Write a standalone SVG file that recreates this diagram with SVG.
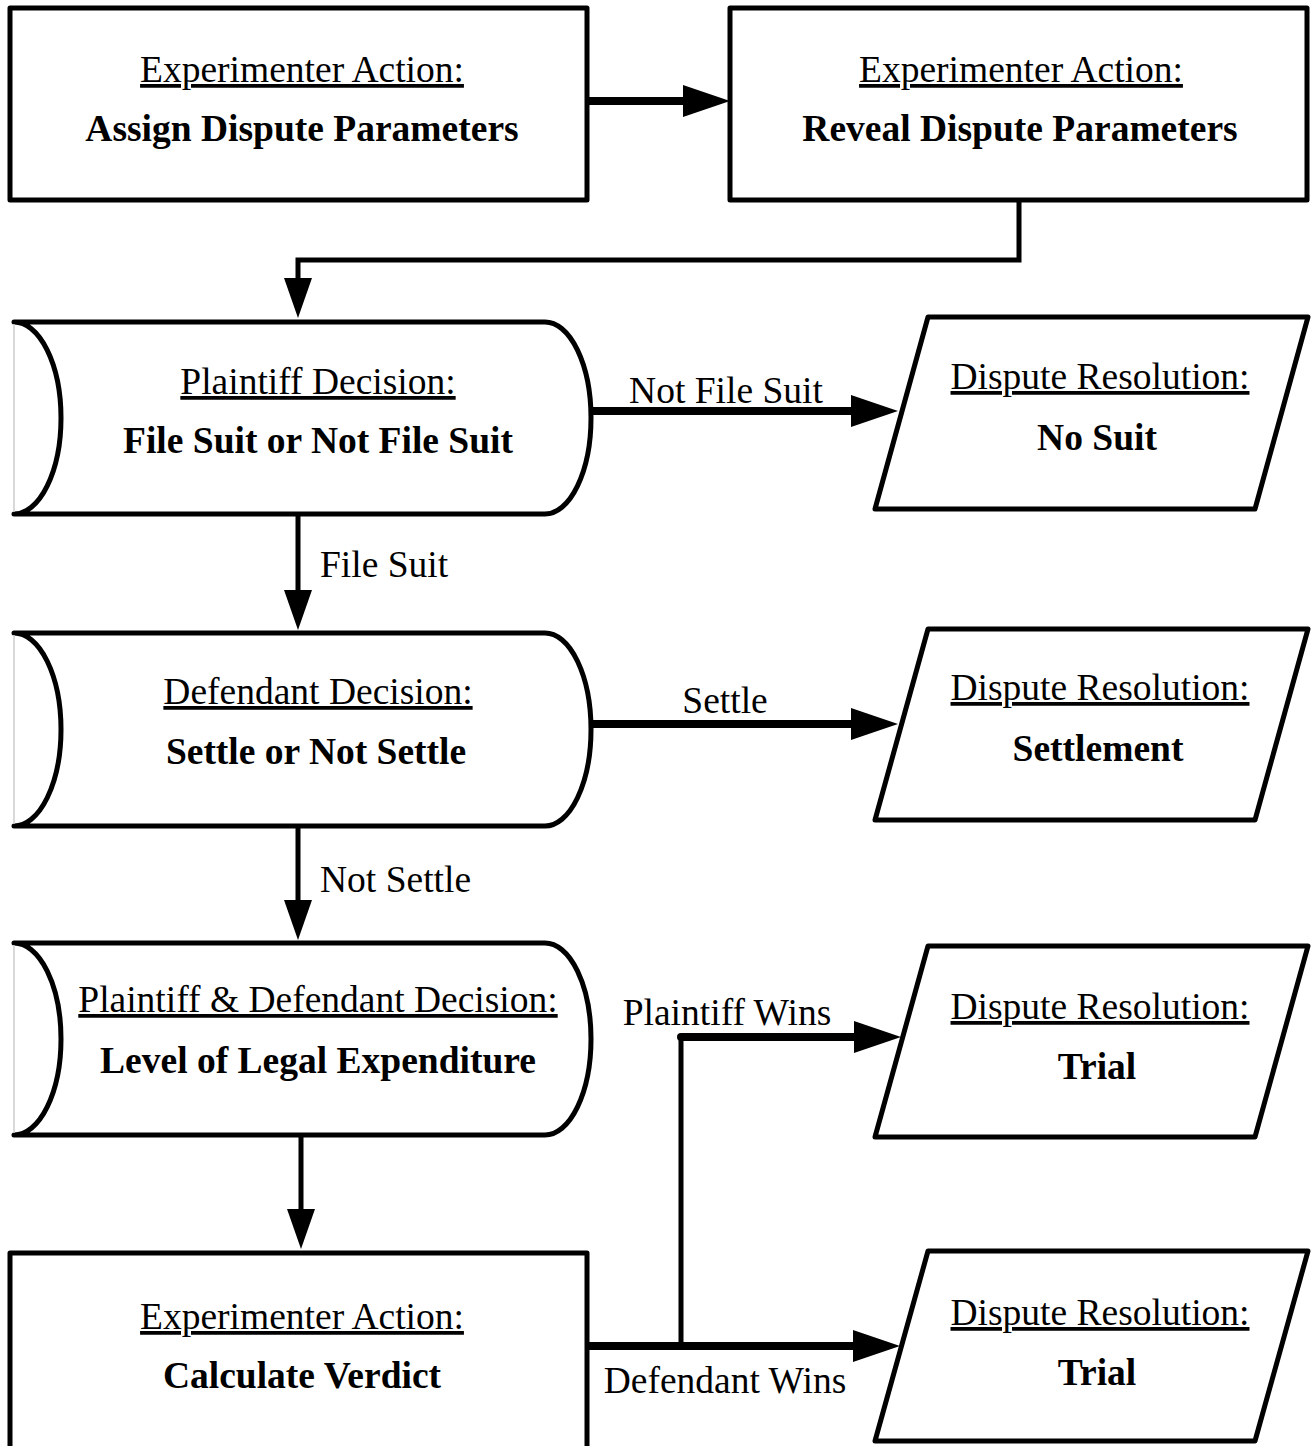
<svg xmlns="http://www.w3.org/2000/svg" width="1313" height="1446" viewBox="0 0 1313 1446">
<defs>
<style>
.shape{fill:#fff;stroke:#000;stroke-width:5;stroke-linejoin:round}
.edge{fill:#fff;stroke:#ccc;stroke-width:1.5}
.t{font-family:"Liberation Serif","Times New Roman",serif;font-size:37.5px;fill:#000}
.h{text-anchor:middle;text-decoration:underline}
.b{text-anchor:middle;font-weight:bold}
.lm{text-anchor:middle}
.thick{fill:none;stroke:#000;stroke-width:8;stroke-linecap:round}
.thin{fill:none;stroke:#000;stroke-width:5;stroke-linecap:round;stroke-linejoin:miter}
</style>
<marker id="hb" markerUnits="userSpaceOnUse" viewBox="0 -16 47 32" markerWidth="47" markerHeight="32" refX="27" refY="0" orient="auto">
<path d="M0,-16 L47,0 L0,16 Z" fill="#000"/>
</marker>
<marker id="hs" markerUnits="userSpaceOnUse" viewBox="0 -14 40 28" markerWidth="40" markerHeight="28" refX="22" refY="0" orient="auto">
<path d="M0,-14 L40,0 L0,14 Z" fill="#000"/>
</marker>
</defs>
<rect width="1313" height="1446" fill="#fff"/>

<g id="connectors">
<path class="thick" d="M583,101 L710,101" marker-end="url(#hb)"/>
<path class="thin" d="M1019,200 L1019,260 L298,260 L298,300" marker-end="url(#hs)"/>
<path class="thick" d="M590,411 L878,411" marker-end="url(#hb)"/>
<path class="thin" d="M298,514 L298,612" marker-end="url(#hs)"/>
<path class="thick" d="M590,724 L878,724" marker-end="url(#hb)"/>
<path class="thin" d="M298,826 L298,922" marker-end="url(#hs)"/>
<path class="thin" d="M301,1130 L301,1231" marker-end="url(#hs)"/>
<path class="thick" d="M587,1346 L880,1346" marker-end="url(#hb)"/>
<path class="thin" d="M681,1346 L681,1037"/>
<path class="thick" d="M681,1037 L881,1037" marker-end="url(#hb)"/>
<text class="t lm" x="726" y="403">Not File Suit</text>
<text class="t" x="320" y="577">File Suit</text>
<text class="t lm" x="725" y="713">Settle</text>
<text class="t" x="320" y="892">Not Settle</text>
<text class="t lm" x="727" y="1025">Plaintiff Wins</text>
<text class="t lm" x="725" y="1393">Defendant Wins</text>
</g>

<g id="assign">
<rect class="shape" x="10" y="8" width="577" height="192"/>
<text class="t h" x="302" y="82">Experimenter Action:</text>
<text class="t b" x="302" y="141">Assign Dispute Parameters</text>
</g>

<g id="reveal">
<rect class="shape" x="730" y="8" width="577" height="192"/>
<text class="t h" x="1021" y="82">Experimenter Action:</text>
<text class="t b" x="1020" y="141">Reveal Dispute Parameters</text>
</g>

<g id="plaintiff-decision">
<path class="shape" d="M14,322 L545,322 A46,96 0 0 1 545,514 L14,514 A47,96 0 0 0 14,322 Z"/>
<line class="edge" x1="14" y1="324" x2="14" y2="512"/>
<text class="t h" x="318" y="394">Plaintiff Decision:</text>
<text class="t b" x="318" y="453">File Suit or Not File Suit</text>
</g>

<g id="no-suit">
<polygon class="shape" points="928,317 1308,317 1255,509 875,509"/>
<text class="t h" x="1100" y="389">Dispute Resolution:</text>
<text class="t b" x="1097" y="450">No Suit</text>
</g>

<g id="defendant-decision">
<path class="shape" d="M14,633 L545,633 A46,96.5 0 0 1 545,826 L14,826 A47,96.5 0 0 0 14,633 Z"/>
<line class="edge" x1="14" y1="635" x2="14" y2="824"/>
<text class="t h" x="318" y="704">Defendant Decision:</text>
<text class="t b" x="316" y="764">Settle or Not Settle</text>
</g>

<g id="settlement">
<polygon class="shape" points="928,629 1308,629 1255,820 875,820"/>
<text class="t h" x="1100" y="700">Dispute Resolution:</text>
<text class="t b" x="1098" y="761">Settlement</text>
</g>

<g id="expenditure-decision">
<path class="shape" d="M14,943 L545,943 A46,96 0 0 1 545,1135 L14,1135 A47,96 0 0 0 14,943 Z"/>
<line class="edge" x1="14" y1="945" x2="14" y2="1133"/>
<text class="t h" x="318" y="1012">Plaintiff &amp; Defendant Decision:</text>
<text class="t b" x="318" y="1073">Level of Legal Expenditure</text>
</g>

<g id="trial-plaintiff">
<polygon class="shape" points="928,946 1308,946 1255,1137 875,1137"/>
<text class="t h" x="1100" y="1019">Dispute Resolution:</text>
<text class="t b" x="1097" y="1079">Trial</text>
</g>

<g id="calculate">
<rect class="shape" x="10" y="1253" width="577" height="200"/>
<text class="t h" x="302" y="1329">Experimenter Action:</text>
<text class="t b" x="302" y="1388">Calculate Verdict</text>
</g>

<g id="trial-defendant">
<polygon class="shape" points="928,1251 1308,1251 1255,1441 875,1441"/>
<text class="t h" x="1100" y="1325">Dispute Resolution:</text>
<text class="t b" x="1097" y="1385">Trial</text>
</g>
</svg>
